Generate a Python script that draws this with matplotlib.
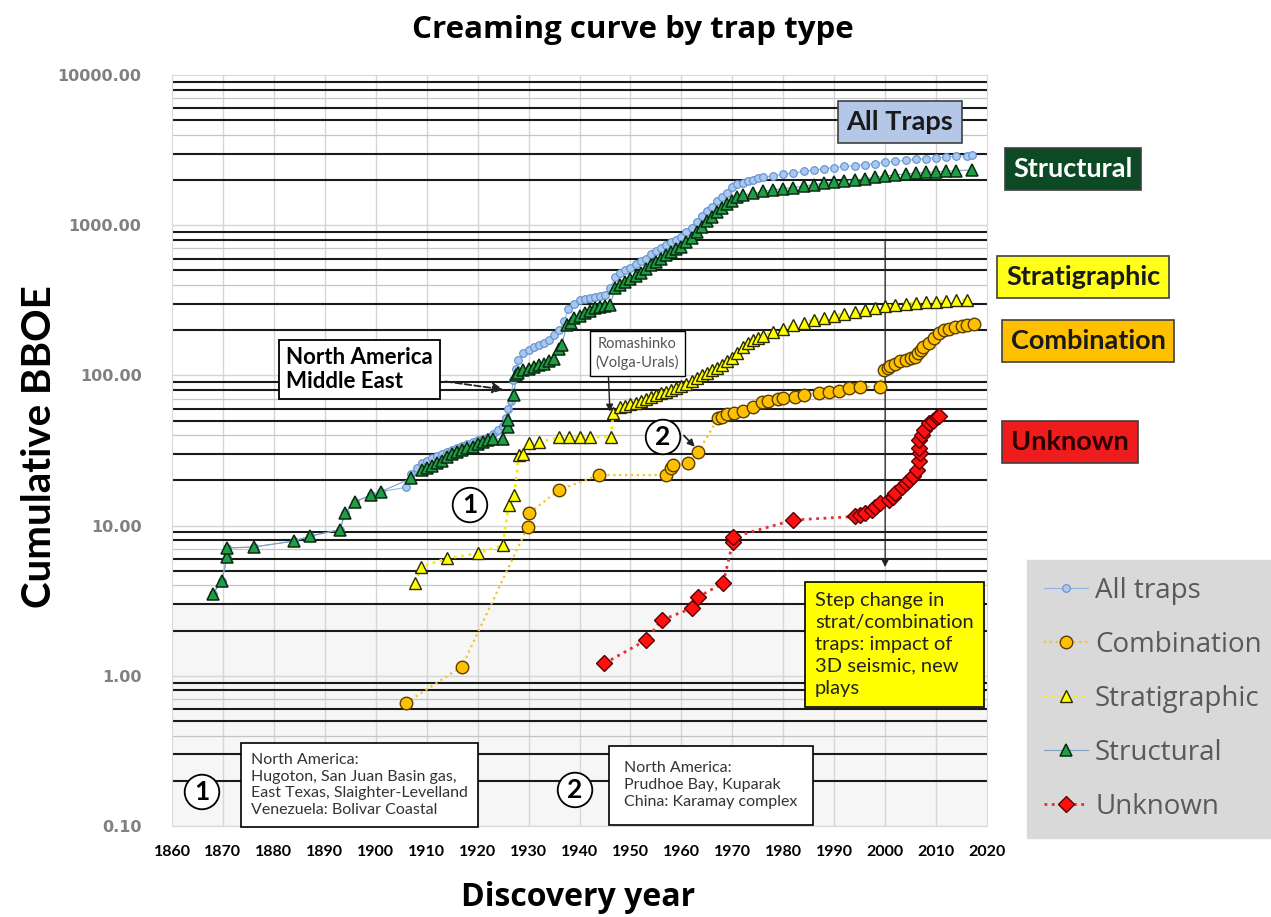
import matplotlib
matplotlib.use('Agg')
import matplotlib.pyplot as plt
from matplotlib.ticker import NullLocator

plt.rcParams['font.family'] = ['Lato', 'DejaVu Sans']

# ---- data ----
all_years = [1868, 1869.8, 1870.8, 1870.8, 1876, 1884, 1887, 1893, 1894, 1896, 1899, 1901, 1906,
             1907, 1908, 1909, 1910, 1911, 1912, 1913, 1914, 1915, 1916, 1917, 1918, 1919, 1920,
             1921, 1922, 1923, 1924, 1925, 1925.5, 1926, 1926.5, 1927, 1927.5, 1928, 1929, 1930,
             1931, 1932, 1933, 1934, 1935, 1936, 1937, 1937.8, 1939, 1940, 1941, 1942, 1943, 1944,
             1945, 1946, 1947, 1948, 1949, 1950, 1951, 1952, 1953, 1954, 1955, 1956, 1957, 1958,
             1959, 1960, 1961, 1962, 1963, 1964, 1965, 1966, 1967, 1968, 1969, 1970, 1971, 1972,
             1973, 1974, 1975, 1976, 1978, 1980, 1982, 1984, 1986, 1988, 1990, 1992, 1994, 1996,
             1998, 2000, 2002, 2004, 2006, 2008, 2010, 2012, 2014, 2016, 2017]
all_vals = [3.5, 4.3, 6.2, 7.1, 7.2, 7.9, 8.5, 9.4, 12.2, 14.4, 16.0, 16.8, 18.0,
            22, 24, 26, 27, 28, 29, 30, 31, 32, 33, 34, 35, 36, 37,
            38, 39, 41, 43, 46, 52, 60, 68, 93, 110, 126, 140, 148,
            155, 160, 165, 172, 185, 200, 230, 275, 300, 320, 325, 328, 332, 338,
            345, 380, 450, 480, 500, 520, 550, 580, 600, 640, 670, 700, 740, 770,
            800, 830, 900, 960, 1050, 1150, 1250, 1330, 1450, 1550, 1650, 1800, 1870, 1920,
            1970, 2010, 2050, 2080, 2130, 2180, 2230, 2280, 2330, 2380, 2420, 2460, 2490, 2530,
            2570, 2620, 2660, 2700, 2740, 2780, 2810, 2840, 2870, 2900, 2930]

comb_years = [1905.9, 1916.9, 1929.8, 1930.1, 1936, 1943.9, 1957, 1958, 1958.4, 1961.3, 1963.3,
              1967.2, 1968, 1969, 1970.4, 1972, 1974, 1975.8, 1977, 1979, 1980, 1982.3, 1984,
              1987, 1989, 1991, 1993, 1995, 1999, 1999.8, 2000.5, 2001, 2002, 2003, 2004, 2005,
              2005.9, 2006.5, 2007, 2007.5, 2008.6, 2009.5, 2010.6, 2011.5, 2012.5, 2013.7, 2015,
              2016, 2017.5]
comb_vals = [0.66, 1.15, 9.8, 12.1, 17.3, 21.7, 21.7, 24, 25.3, 26, 31,
             51.7, 53, 55, 56, 58, 62, 67, 68, 70, 71, 72, 74,
             76, 78, 79, 82, 84, 84, 109, 112, 115, 120, 124, 127, 130,
             132, 140, 148, 155, 165, 178, 191, 200, 205, 210, 214,
             216, 220]

strat_years = [1907.8, 1908.8, 1914, 1920, 1924.9, 1926.1, 1927.2, 1928.1, 1929, 1930, 1932, 1936,
               1938, 1940, 1942, 1946.2, 1946.6, 1948, 1949, 1950, 1951, 1952, 1953, 1954, 1955,
               1956, 1957, 1958, 1959, 1960, 1961, 1962, 1963, 1964, 1965, 1966, 1967, 1968, 1969,
               1970, 1971, 1972, 1973, 1974, 1975, 1976, 1978, 1980, 1982, 1984, 1986, 1988, 1990,
               1992, 1994, 1996, 1998, 2000, 2002, 2004, 2006, 2008, 2010, 2012, 2014, 2016]
strat_vals = [4.15, 5.3, 6.05, 6.55, 7.4, 13.7, 16, 29.5, 30, 35.5, 36, 38.6,
              38.6, 39, 39, 39, 56, 62, 63, 65, 66, 68, 70, 72, 74,
              76, 78, 80, 82, 85, 88, 92, 96, 100, 104, 108, 112, 118, 124,
              130, 140, 155, 165, 172, 178, 184, 195, 205, 215, 225, 235, 242, 250,
              258, 265, 272, 280, 290, 295, 300, 303, 306, 310, 313, 316, 320]

struct_years = [1868, 1869.8, 1870.8, 1870.8, 1876, 1884, 1887, 1893, 1894, 1896, 1899, 1901,
                1907, 1909, 1910, 1911, 1912, 1913, 1914, 1915, 1916, 1917, 1918, 1919, 1920,
                1921, 1922, 1923, 1925, 1925.9, 1926, 1927.2, 1927.5, 1928, 1929, 1930, 1931,
                1932, 1933, 1934, 1935, 1936, 1936.5, 1937.5, 1938.3, 1939, 1940, 1941, 1942,
                1943, 1944, 1945, 1946, 1947, 1948, 1949, 1950, 1951, 1952, 1953, 1954, 1955,
                1956, 1957, 1958, 1959, 1960, 1961, 1962, 1963, 1964, 1965, 1966, 1967, 1968,
                1969, 1970, 1971, 1972, 1974, 1976, 1978, 1980, 1982, 1984, 1986, 1988, 1990,
                1992, 1994, 1996, 1998, 2000, 2002, 2004, 2006, 2008, 2010, 2012, 2014, 2017]
struct_vals = [3.5, 4.3, 6.2, 7.1, 7.2, 7.9, 8.5, 9.4, 12.2, 14.4, 16.0, 16.8,
               20.7, 23.4, 24, 25, 26, 27, 28.5, 30, 31, 32, 33, 33.5, 35,
               36, 37, 37.5, 38, 45.5, 50.5, 74, 100, 104, 108, 111, 114,
               117, 120, 124, 128, 150, 160, 215, 223, 240, 250, 260, 270,
               280, 285, 290, 295, 380, 400, 420, 440, 460, 480, 510, 540, 570,
               600, 630, 660, 690, 720, 770, 820, 900, 980, 1060, 1130, 1220, 1300,
               1380, 1450, 1530, 1580, 1630, 1680, 1720, 1750, 1780, 1820, 1860, 1900, 1930,
               1960, 2000, 2040, 2080, 2120, 2160, 2190, 2220, 2250, 2270, 2290, 2310, 2330]

unk_years = [1944.9, 1953.1, 1956.1, 1962, 1963.3, 1968.2, 1970.1, 1970.2, 1982, 1994, 1995,
             1996, 1997.4, 1998, 1999, 2000.7, 2001.5, 2002, 2003.4, 2004, 2004.7, 2005.5,
             2006.3, 2006.6, 2006.9, 2006.7, 2006.7, 2007.2, 2007.6, 2008.6, 2009.4, 2010.2, 2010.6]
unk_vals = [1.21, 1.73, 2.35, 2.81, 3.36, 4.13, 7.8, 8.4, 10.9, 11.5, 11.8,
            12.1, 12.7, 13.2, 14.1, 14.8, 15.6, 16.5, 18.2, 19.2, 20.1, 21.5,
            23.5, 27, 30.4, 33, 37, 40, 43, 48, 50, 52.8, 54]

y_ticks = [0.1, 1, 10, 100, 1000, 10000]
x_ticks = list(range(1860, 2021, 10))

# ---- figure ----
fig = plt.figure(figsize=(12.71, 9.17), dpi=100)
ax = fig.add_axes([172 / 1271, 91 / 917, 815 / 1271, 751 / 917])
ax.set_yscale('log')
ax.set_xlim(1860, 2020)
ax.set_ylim(0.1, 10000)

# light shading in the lower part of the plot
ax.axhspan(0.1, 3, color='#f6f6f6', zorder=0)

# gridlines: faint majors, heavy minors (as in the scanned original)
for dec in [0.1, 1, 10, 100, 1000]:
    ax.axhline(dec, color='#d4d4d4', lw=1, zorder=0.5)
    for m in range(2, 10):
        if m in (4, 7):
            ax.axhline(m * dec, color='#c4c4c4', lw=0.9, zorder=0.5)
        else:
            ax.axhline(m * dec, color='#1a1a1a', lw=1.5, zorder=0.5)
for yr in x_ticks[1:-1]:
    ax.axvline(yr, color='#d6d6d6', lw=1, zorder=0.4)

# series
ax.plot(all_years, all_vals, color='#8fb4e3', lw=0.8, marker='o', ms=5.5,
        mfc='#a9c8ee', mec='#5f8fcf', mew=0.8, label='All traps', zorder=3)
ax.plot(comb_years, comb_vals, color='#f2c230', lw=1.6, ls=':', marker='o', ms=9,
        mfc='#ffc000', mec='#5a4000', mew=1, label='Combination', zorder=4)
ax.plot(strat_years, strat_vals, color='#f5f000', lw=2, ls=':', marker='^', ms=9,
        mfc='#ffff00', mec='#2a2a00', mew=1, label='Stratigraphic', zorder=4)
ax.plot(struct_years, struct_vals, color='#7f9fc0', lw=0.8, marker='^', ms=9,
        mfc='#1f9e46', mec='#0a2a10', mew=1.1, label='Structural', zorder=5)
ax.plot(unk_years, unk_vals, color='#e03030', lw=2, ls=':', marker='D', ms=8,
        mfc='#ff1010', mec='#5a0000', mew=1, label='Unknown', zorder=6)

# axes styling
ax.set_yticks(y_ticks)
ax.set_yticklabels([f'{v:.2f}' for v in y_ticks], family=['DejaVu Sans'],
                   fontweight='bold', color='#808080', fontsize=11.5)
ax.yaxis.set_minor_locator(NullLocator())
ax.set_xticks(x_ticks)
ax.set_xticklabels([str(v) for v in x_ticks], fontweight='bold', fontsize=11.5)
ax.tick_params(axis='y', length=0, pad=22)
ax.tick_params(axis='x', length=0, pad=14)
for s in ax.spines.values():
    s.set_color('#d9d9d9')

fig.text(0.498, 0.967, 'Creaming curve by trap type', ha='center', va='center',
         fontsize=22.5, fontweight='bold', family=['Open Sans', 'DejaVu Sans'])
fig.text(40 / 1271, 1 - 447 / 917, 'Cumulative BBOE', ha='center', va='center',
         rotation=90, fontsize=29, fontweight='bold')
fig.text(578 / 1271, 1 - 898 / 917, 'Discovery year', ha='center', va='center',
         fontsize=23, fontweight='bold', family=['Open Sans', 'DejaVu Sans'])

# series name boxes
def label_box(x, y, txt, fc, tc, tr=fig.transFigure):
    fig.text(x, y, txt, ha='center', va='center', fontsize=19.5, fontweight='bold',
             color=tc, transform=tr,
             bbox=dict(boxstyle='square,pad=0.32', fc=fc, ec='#404040', lw=1.2))

label_box(900 / 1271, 1 - 122 / 917, 'All Traps', '#b4c7e7', '#1a1a1a')
label_box(1073 / 1271, 1 - 169 / 917, 'Structural', '#0b4a25', 'white')
label_box(1083 / 1271, 1 - 277 / 917, 'Stratigraphic', '#ffff1a', '#1a1a1a')
label_box(1088 / 1271, 1 - 341 / 917, 'Combination', '#ffc000', '#1a1a1a')
label_box(1070 / 1271, 1 - 442 / 917, 'Unknown', '#ee1c1c', '#2a0000')

# annotations
ax.annotate('North America\nMiddle East', xy=(1925.6, 80), xycoords='data',
            xytext=(0.14, 0.608), textcoords='axes fraction', ha='left', va='center',
            fontsize=16, fontweight='bold', linespacing=1.2,
            bbox=dict(boxstyle='square,pad=0.3', fc='white', ec='black', lw=1.3),
            arrowprops=dict(arrowstyle='-|>', ls='--', lw=1.3, color='#222222',
                            shrinkA=4, shrinkB=2), zorder=8)
ax.annotate('Romashinko\n(Volga-Urals)', xy=(1946, 55), xycoords='data',
            xytext=(0.571, 0.629), textcoords='axes fraction', ha='center', va='center',
            fontsize=10.5, color='#555555', linespacing=1.3,
            bbox=dict(boxstyle='square,pad=0.4', fc='white', ec='black', lw=1),
            arrowprops=dict(arrowstyle='-|>', lw=1, color='#222222',
                            relpos=(0.15, 0.0), shrinkA=0, shrinkB=2), zorder=8)

def circle_num(x, y, n):
    ax.text(x, y, n, transform=ax.transAxes, ha='center', va='center', fontsize=19,
            fontweight='bold', zorder=8,
            bbox=dict(boxstyle='circle,pad=0.2', fc='white', ec='black', lw=1.3))

circle_num(0.3656, 0.4274, '1')
circle_num(0.6025, 0.518, '2')
circle_num(0.0368, 0.0453, '1')
circle_num(0.4945, 0.048, '2')
ax.annotate('', xy=(1963.2, 32), xycoords='data', xytext=(0.628, 0.52),
            textcoords='axes fraction',
            arrowprops=dict(arrowstyle='-|>', lw=1.3, color='#222222', shrinkA=0, shrinkB=3),
            zorder=8)

ax.text(0.097, 0.0545, 'North America:\nHugoton, San Juan Basin gas,\nEast Texas, Slaighter-Levelland\n'
        'Venezuela: Bolivar Coastal', transform=ax.transAxes, ha='left', va='center',
        fontsize=11.5, color='#333333', linespacing=1.25, zorder=8,
        bbox=dict(boxstyle='square,pad=0.6', fc='white', ec='black', lw=1.2))
ax.text(0.555, 0.0545, 'North America:\nPrudhoe Bay, Kuparak\nChina: Karamay complex',
        transform=ax.transAxes, ha='left', va='center', fontsize=11.5, color='#333333',
        linespacing=1.3, zorder=8,
        bbox=dict(boxstyle='square,pad=0.95', fc='white', ec='black', lw=1.2))

ax.annotate('', xy=(2000, 5.3), xycoords='data', xytext=(2000, 800),
            arrowprops=dict(arrowstyle='-|>', lw=0.9, color='#222222', shrinkA=0, shrinkB=0),
            zorder=2)
ax.text(0.789, 0.242, 'Step change in\nstrat/combination\ntraps: impact of\n3D seismic, new\nplays',
        transform=ax.transAxes, ha='left', va='center', fontsize=14.5, color='#222222',
        linespacing=1.35, zorder=8, clip_on=False,
        bbox=dict(boxstyle='square,pad=0.5', fc='#ffff00', ec='black', lw=1.2))

# legend (spills off the right edge like the original)
fig.legend(loc='upper left', bbox_to_anchor=(1027 / 1271, 1 - 560 / 917),
           borderaxespad=0, frameon=True, facecolor='#d9d9d9', edgecolor='#d9d9d9',
           fancybox=False, framealpha=1, labelcolor='#595959',
           prop={'family': ['Open Sans', 'DejaVu Sans'], 'size': 20},
           handlelength=1.6, labelspacing=0.94, borderpad=0.6, handletextpad=0.25)

fig.savefig('out.png', dpi=100)
